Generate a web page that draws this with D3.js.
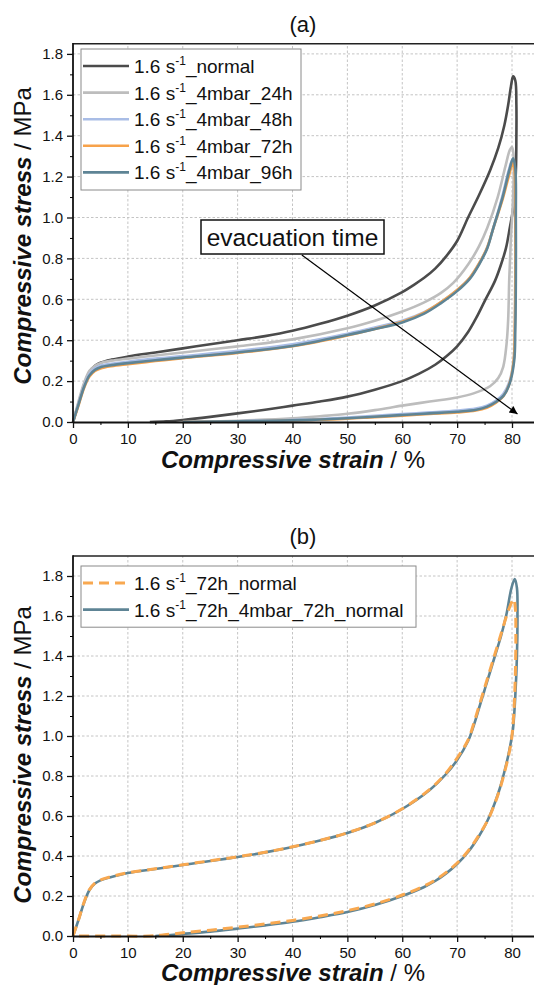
<!DOCTYPE html>
<html>
<head>
<meta charset="utf-8">
<script src="https://cdn.jsdelivr.net/npm/d3@7"></script>
<style>
body { margin: 0; background: #fff; }
text { font-family: "Liberation Sans", Arial, sans-serif; fill: #111; }
</style>
</head>
<body>
<svg width="534" height="985"></svg>
<script>
// ticks
const xTicks = [0, 10, 20, 30, 40, 50, 60, 70, 80];
const xMinor = [5, 15, 25, 35, 45, 55, 65, 75];
const yTicks = [0, 0.2, 0.4, 0.6, 0.8, 1.0, 1.2, 1.4, 1.6, 1.8];
const yMinor = [0.1, 0.3, 0.5, 0.7, 0.9, 1.1, 1.3, 1.5, 1.7];

// panel (a): [strain %, stress MPa]
const normal = [[0,0],[1,0.09],[2,0.18],[3,0.245],[4,0.275],[5,0.29],[7,0.305],[10,0.32],[15,0.34],[20,0.36],[25,0.38],[30,0.40],[35,0.42],[40,0.446],[45,0.48],[50,0.52],[55,0.57],[60,0.635],[62,0.668],[64,0.705],[66,0.75],[68,0.81],[70,0.885],[72,1.0],[74,1.11],[76,1.23],[77.5,1.34],[78.6,1.45],[79.3,1.55],[79.8,1.64],[80.2,1.69],[80.6,1.67],[80.8,1.55],[80.8,1.4],[80.7,1.22],[80.3,1.06],[79.6,0.95],[78.9,0.85],[78,0.77],[76.9,0.69],[75,0.59],[73.5,0.51],[72,0.44],[70,0.37],[68,0.32],[66,0.28],[63,0.235],[60,0.2],[55,0.158],[50,0.124],[45,0.1],[40,0.08],[35,0.06],[30,0.042],[25,0.025],[20,0.01],[17,0.003],[14,0]];
const mbar24 = [[0,0],[1,0.1],[2,0.19],[3,0.25],[4,0.275],[5,0.288],[7,0.3],[10,0.31],[15,0.325],[20,0.34],[30,0.37],[40,0.404],[50,0.458],[55,0.495],[60,0.54],[64,0.585],[67,0.63],[69.3,0.68],[72,0.77],[74,0.86],[75.5,0.95],[77.4,1.10],[78.8,1.25],[79.6,1.33],[80,1.345],[80.3,1.3],[80.2,1.1],[79.8,0.9],[79.5,0.7],[79.3,0.5],[79,0.38],[78.4,0.27],[77.5,0.215],[76,0.175],[73,0.14],[70,0.12],[65,0.1],[60,0.08],[55,0.058],[50,0.04],[45,0.028],[40,0.018],[30,0.006],[22,0]];
const mbar48 = [[0,0],[1,0.09],[2,0.175],[3,0.235],[4,0.262],[5,0.275],[7,0.285],[10,0.295],[15,0.31],[20,0.322],[30,0.348],[40,0.38],[50,0.432],[55,0.462],[60,0.495],[64,0.537],[67,0.585],[70,0.645],[72.3,0.705],[74,0.775],[75.5,0.855],[76.5,0.94],[78.2,1.1],[79.4,1.23],[80.1,1.285],[80.5,1.24],[80.6,1.0],[80.6,0.7],[80.5,0.45],[80.3,0.3],[79.5,0.195],[78.4,0.137],[77.1,0.105],[75.4,0.08],[73.4,0.066],[70,0.056],[65,0.047],[60,0.039],[55,0.03],[50,0.022],[45,0.015],[40,0.01],[30,0.004],[20,0]];
const mbar72 = [[0,0],[1,0.08],[2,0.165],[3,0.222],[4,0.25],[5,0.262],[7,0.273],[10,0.283],[15,0.298],[20,0.312],[30,0.338],[40,0.37],[50,0.423],[55,0.455],[60,0.49],[64,0.535],[67,0.585],[70,0.645],[72.3,0.705],[74,0.775],[75.5,0.855],[76.5,0.94],[78.3,1.09],[79.5,1.21],[80.2,1.27],[80.5,1.22],[80.6,1.0],[80.6,0.7],[80.5,0.45],[80.3,0.3],[79.5,0.185],[78.4,0.125],[77.1,0.095],[75.4,0.07],[73.4,0.056],[70,0.047],[65,0.039],[60,0.031],[55,0.024],[50,0.016],[45,0.011],[40,0.007],[30,0.002],[20,0]];
const mbar96 = [[0,0],[1,0.085],[2,0.17],[3,0.228],[4,0.255],[5,0.268],[7,0.278],[10,0.288],[15,0.302],[20,0.315],[30,0.34],[40,0.372],[50,0.425],[55,0.455],[60,0.487],[64,0.53],[67,0.58],[70,0.64],[72.3,0.70],[74,0.77],[75.5,0.85],[76.5,0.94],[78.3,1.10],[79.5,1.23],[80.2,1.29],[80.6,1.24],[80.7,1.0],[80.7,0.7],[80.6,0.45],[80.4,0.3],[79.6,0.19],[78.5,0.13],[77.2,0.1],[75.5,0.075],[73.5,0.06],[70,0.05],[65,0.042],[60,0.034],[55,0.026],[50,0.018],[45,0.012],[40,0.008],[30,0.003],[20,0]];

// panel (b)
const normal72 = [[0,0],[1,0.08],[2,0.168],[3,0.232],[4,0.264],[5,0.28],[7,0.297],[10,0.316],[15,0.336],[20,0.356],[25,0.376],[30,0.396],[35,0.419],[40,0.446],[45,0.478],[50,0.516],[55,0.566],[60,0.636],[65,0.733],[68,0.815],[70,0.89],[72,0.98],[73,1.06],[74,1.15],[75,1.24],[76,1.33],[77,1.42],[78,1.51],[79,1.6],[79.8,1.66],[80.3,1.685],[80.6,1.64],[80.7,1.5],[80.6,1.3],[80.3,1.1],[79.9,0.98],[79.4,0.905],[78.7,0.825],[77.9,0.745],[76.9,0.665],[75.6,0.58],[74,0.505],[72,0.425],[70,0.365],[68,0.318],[66,0.28],[64,0.25],[60,0.205],[55,0.16],[50,0.127],[45,0.1],[40,0.078],[35,0.06],[30,0.044],[25,0.029],[20,0.016],[17,0.007],[14,0],[7,0],[0,0]];
const mbar72normal = [[0,0],[1,0.08],[2,0.165],[3,0.23],[4,0.262],[5,0.278],[7,0.295],[10,0.315],[15,0.335],[20,0.355],[25,0.375],[30,0.395],[35,0.418],[40,0.445],[45,0.477],[50,0.515],[55,0.565],[60,0.635],[65,0.73],[68,0.81],[70,0.88],[72,0.975],[73,1.05],[74,1.14],[75,1.23],[76,1.32],[77,1.41],[78,1.5],[79,1.61],[79.9,1.74],[80.5,1.785],[80.9,1.74],[81,1.6],[80.9,1.4],[80.6,1.2],[80.2,1.04],[79.8,0.97],[79.3,0.9],[78.6,0.82],[77.8,0.74],[76.8,0.66],[75.5,0.575],[74,0.5],[72,0.42],[70,0.36],[68,0.313],[66,0.275],[64,0.245],[60,0.2],[55,0.155],[50,0.12],[45,0.094],[40,0.071],[35,0.053],[30,0.037],[25,0.022],[20,0.01],[17,0.003],[15,0]];

// arrow annotation in data units
const arrowFrom = [41.7, 0.817];
const arrowTo = [81.0, 0.039];

const svg = d3.select('svg');

svg.append('defs').append('marker')
  .attr('id', 'head')
  .attr('viewBox', '0 0 10 10')
  .attr('refX', 10).attr('refY', 5)
  .attr('markerWidth', 11).attr('markerHeight', 8)
  .attr('markerUnits', 'userSpaceOnUse')
  .attr('orient', 'auto')
  .append('path').attr('d', 'M0,0L10,5L0,10z').attr('fill', '#000');

const drawPanel = function drawPanel(o) {
  const g = svg.append('g');
  const x = d3.scaleLinear().domain([0, 85]).range([73, 73 + 85 * 5.4875]);
  const y = d3.scaleLinear().domain([0, o.yMax]).range([o.y0, o.y0 - o.yMax * o.k]);

  // grid
  g.append('g').selectAll('line').data(xTicks.slice(1)).join('line')
    .attr('x1', d => x(d)).attr('x2', d => x(d))
    .attr('y1', y(0)).attr('y2', y(o.yMax))
    .attr('stroke', '#c4c4c4').attr('stroke-width', 1).attr('stroke-dasharray', '2.5,2');
  g.append('g').selectAll('line').data(yTicks.slice(1)).join('line')
    .attr('x1', x(0)).attr('x2', 534)
    .attr('y1', d => y(d)).attr('y2', d => y(d))
    .attr('stroke', '#c4c4c4').attr('stroke-width', 1).attr('stroke-dasharray', '2.5,2');

  // curves (drawOrder lets the dashed curve sit on top in (b))
  const line = d3.line()
    .x(d => x(d[0])).y(d => y(d[1]))
    .curve(d3.curveCatmullRom.alpha(0.5));
  const order = o.drawOrder || o.series.map((s, i) => i);
  order.forEach(function (i) {
    const s = o.series[i];
    g.append('path')
      .attr('d', line(s.data))
      .attr('fill', 'none')
      .attr('stroke', s.color)
      .attr('stroke-width', s.width)
      .attr('stroke-dasharray', s.dash || null)
      .attr('stroke-linejoin', 'round');
  });

  // frame and axes
  g.append('line').attr('x1', x(0)).attr('x2', 540)
    .attr('y1', y(o.yMax)).attr('y2', y(o.yMax))
    .attr('stroke', '#222').attr('stroke-width', 1.6);

  const ax = g.append('g').attr('transform', 'translate(0,' + y(0) + ')')
    .call(d3.axisBottom(x).tickValues(xTicks).tickSize(6).tickPadding(5).tickSizeOuter(0));
  g.append('g').attr('transform', 'translate(0,' + y(0) + ')')
    .call(d3.axisBottom(x).tickValues(xMinor).tickSize(3).tickFormat('').tickSizeOuter(0))
    .select('.domain').remove();
  ax.select('.domain').attr('stroke', '#111').attr('stroke-width', 2);
  ax.selectAll('.tick line').attr('stroke', '#111').attr('stroke-width', 1.3);
  ax.selectAll('text').style('font-size', '15px').attr('fill', '#111');

  const ay = g.append('g').attr('transform', 'translate(' + x(0) + ',0)')
    .call(d3.axisLeft(y).tickValues(yTicks).tickSize(6).tickPadding(4).tickSizeOuter(0)
      .tickFormat(d3.format('.1f')));
  g.append('g').attr('transform', 'translate(' + x(0) + ',0)')
    .call(d3.axisLeft(y).tickValues(yMinor).tickSize(3).tickFormat('').tickSizeOuter(0))
    .select('.domain').remove();
  ay.select('.domain').attr('stroke', '#111').attr('stroke-width', 1.8)
    .attr('d', 'M0,' + y(0) + 'V' + (y(o.yMax) - 0.8));
  ay.selectAll('.tick line').attr('stroke', '#111').attr('stroke-width', 1.3);
  ay.selectAll('text').style('font-size', '15px').attr('fill', '#111');

  // titles
  g.append('text').attr('x', 303).attr('y', o.titleY)
    .attr('text-anchor', 'middle').style('font-size', '22px').text(o.title);

  const xt = g.append('text').attr('x', 293).attr('y', o.xTitleY)
    .attr('text-anchor', 'middle').style('font-size', '24px');
  xt.append('tspan').style('font-weight', 'bold').style('font-style', 'italic').text('Compressive strain');
  xt.append('tspan').text(' / %');

  const yt = g.append('text')
    .attr('transform', 'translate(31,' + o.yTitleY + ') rotate(-90)')
    .attr('text-anchor', 'middle').style('font-size', '24px');
  yt.append('tspan').style('font-weight', 'bold').style('font-style', 'italic').text('Compressive stress');
  yt.append('tspan').text(' / MPa');

  // legend
  const lg = g.append('g');
  lg.append('rect')
    .attr('x', 81).attr('y', o.legendTop)
    .attr('width', o.legendWidth).attr('height', o.series.length * o.rowStep + 8)
    .attr('fill', '#fff').attr('stroke', '#8a8a8a').attr('stroke-width', 1);
  o.series.forEach(function (s, i) {
    const ry = o.legendTop + 17 + i * o.rowStep;
    lg.append('line').attr('x1', 83).attr('x2', 129).attr('y1', ry).attr('y2', ry)
      .attr('stroke', s.color).attr('stroke-width', s.width)
      .attr('stroke-dasharray', s.dash || null);
    const t = lg.append('text').attr('x', 134).attr('y', ry + 7).style('font-size', '19px');
    t.append('tspan').text('1.6 s');
    t.append('tspan').attr('dy', -8).style('font-size', '12px').text('-1');
    t.append('tspan').attr('dy', 8).text(s.label);
  });

  return { x: x, y: y, g: g };
};

const pa = drawPanel({
  y0: 422, k: 204.5, yMax: 1.85,
  title: '(a)', titleY: 32, xTitleY: 468, yTitleY: 236,
  legendTop: 49, legendWidth: 220, rowStep: 26.6,
  series: [
    { label: '_normal', data: normal, color: '#4b4b4b', width: 2.6 },
    { label: '_4mbar_24h', data: mbar24, color: '#bdbdbd', width: 2.6 },
    { label: '_4mbar_48h', data: mbar48, color: '#a9bde6', width: 2.6 },
    { label: '_4mbar_72h', data: mbar72, color: '#f7a24a', width: 2.6 },
    { label: '_4mbar_96h', data: mbar96, color: '#5e8495', width: 2.6 }
  ]
});

// evacuation time annotation
const box = pa.g.append('g');
box.append('rect').attr('x', 201).attr('y', 220).attr('width', 183).attr('height', 34)
  .attr('fill', '#fff').attr('stroke', '#111').attr('stroke-width', 1.5);
box.append('text').attr('x', 292.5).attr('y', 246).attr('text-anchor', 'middle')
  .style('font-size', '24.5px').text('evacuation time');
pa.g.append('line')
  .attr('x1', pa.x(arrowFrom[0])).attr('y1', pa.y(arrowFrom[1]))
  .attr('x2', pa.x(arrowTo[0])).attr('y2', pa.y(arrowTo[1]))
  .attr('stroke', '#000').attr('stroke-width', 1.2)
  .attr('marker-end', 'url(#head)');

drawPanel({
  y0: 936, k: 200, yMax: 1.9,
  title: '(b)', titleY: 544, xTitleY: 981, yTitleY: 755,
  legendTop: 566, legendWidth: 335, rowStep: 26.6,
  drawOrder: [1, 0],
  series: [
    { label: '_72h_normal', data: normal72, color: '#f8a850', width: 3, dash: '10,6' },
    { label: '_72h_4mbar_72h_normal', data: mbar72normal, color: '#5e8495', width: 2.6 }
  ]
});
</script>
</body>
</html>
